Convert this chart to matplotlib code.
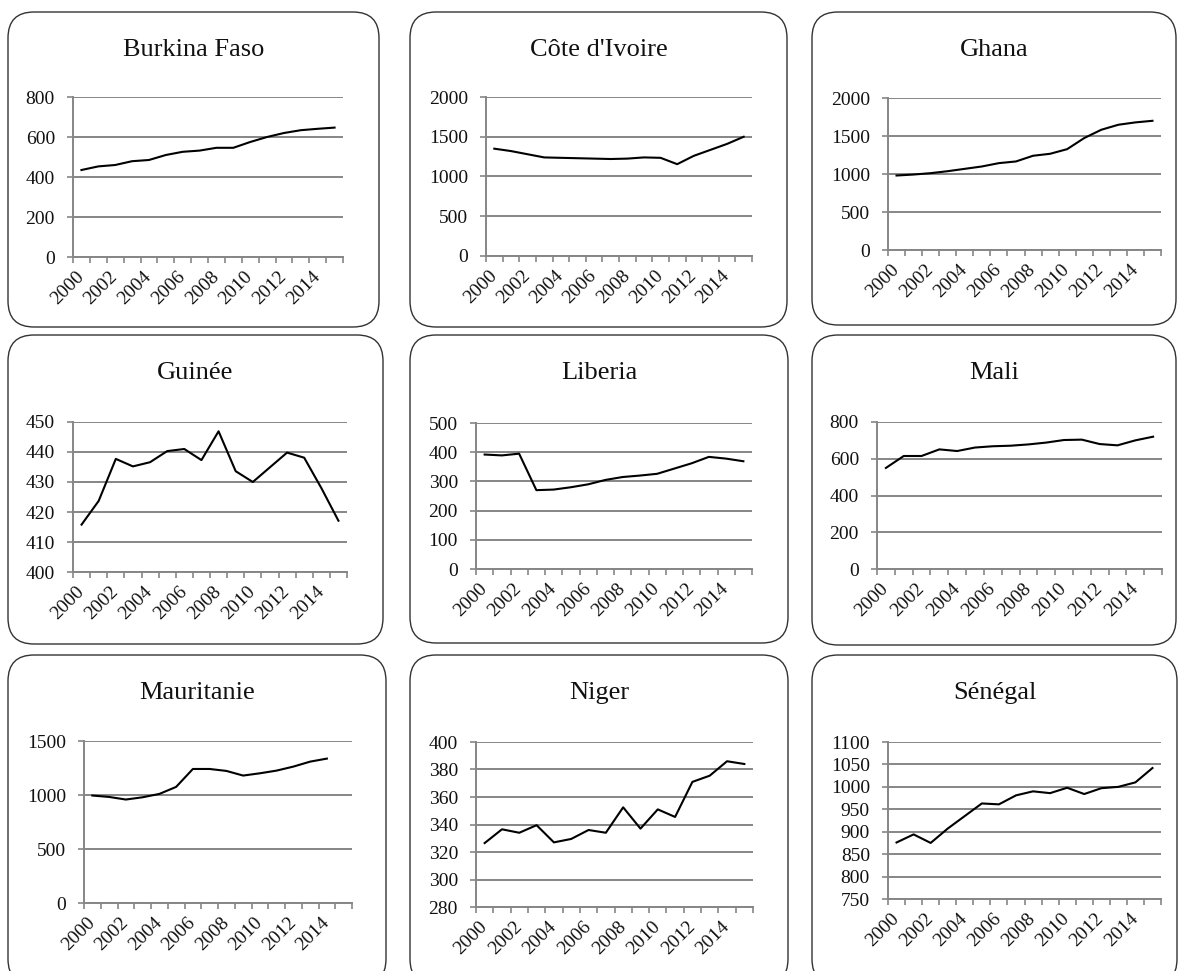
import numpy as np
import matplotlib
matplotlib.use("Agg")
import matplotlib.pyplot as plt
from matplotlib.patches import FancyBboxPatch

plt.rcParams['font.family'] = ['Liberation Serif', 'DejaVu Serif']

# Données
annees = [str(a) for a in range(2000, 2016)]
pays = ["Burkina Faso", "Côte d'Ivoire", "Ghana",
        "Guinée", "Liberia", "Mali",
        "Mauritanie", "Niger", "Sénégal"]

burkina = [435, 453, 460, 479, 485, 510, 526, 532, 546, 546, 575, 600, 620, 634, 641, 647]
cote_ivoire = [1350, 1320, 1280, 1240, 1235, 1230, 1225, 1220, 1225, 1240, 1235, 1155, 1260, 1335, 1410, 1500]
ghana = [980, 993, 1011, 1037, 1068, 1099, 1143, 1165, 1240, 1266, 1327, 1473, 1582, 1648, 1679, 1700]
guinee = [415.8, 423.7, 437.7, 435.2, 436.6, 440.3, 441.0, 437.3, 446.9, 433.6, 430.0, 434.9, 439.8, 438.1, 428.0, 417.1]
liberia = [392, 389, 395, 270, 272, 280, 290, 305, 315, 320, 326, 344, 362, 384, 378, 369]
mali = [550, 615, 615, 651, 642, 661, 668, 671, 678, 688, 702, 704, 680, 673, 700, 720]
mauritanie = [995, 982, 958, 979, 1010, 1075, 1241, 1241, 1223, 1180, 1201, 1226, 1263, 1309, 1337, np.nan]
niger = [326.5, 336.5, 334, 339.5, 327, 329.5, 336, 334, 352.5, 337, 351, 345.5, 371, 375.5, 386, 384]
senegal = [876, 894, 875, 907, 935, 963, 961, 981, 990, 986, 998, 984, 997, 1000, 1010, 1042]

series = [burkina, cote_ivoire, ghana, guinee, liberia, mali, mauritanie, niger, senegal]
ylims = [(0, 800, 200), (0, 2000, 500), (0, 2000, 500),
         (400, 450, 10), (0, 500, 100), (0, 800, 200),
         (0, 1500, 500), (280, 400, 20), (750, 1100, 50)]

# Mise en page en pixels (gauche, haut, droite, bas)
W, H = 1185, 971
panneaux = [(8, 12, 379, 327), (410, 12, 787, 327), (812, 12, 1176, 325),
            (8, 335, 383, 644), (410, 335, 788, 643), (812, 335, 1176, 645),
            (8, 655, 386, 985), (410, 655, 788, 985), (812, 655, 1177, 985)]
zones = [(73, 97, 343, 257), (486, 97, 752, 256), (888, 98, 1161, 250),
         (73, 422, 347, 572), (476, 423, 752, 569), (877, 422, 1162, 569),
         (84, 741, 352, 903), (476, 742, 753, 907), (888, 742, 1161, 899)]
titres_y = [50, 50, 50, 373, 373, 373, 693, 693, 693]

fig = plt.figure(figsize=(W / 100, H / 100), dpi=100)
gris = '#868686'

for i in range(9):
    l, t, r, b = panneaux[i]
    box = FancyBboxPatch((l / 100, (H - b) / 100), (r - l) / 100, (b - t) / 100,
                         boxstyle="round,pad=0,rounding_size=0.26",
                         transform=fig.dpi_scale_trans, facecolor='none',
                         edgecolor='#333333', linewidth=1.0, zorder=-1)
    fig.patches.append(box)
    fig.text((l + r) / 2 / W, 1 - titres_y[i] / H, pays[i], ha='center', va='center',
             fontsize=19, color='#111111')

    l, t, r, b = zones[i]
    ax = fig.add_axes([l / W, 1 - b / H, (r - l) / W, (b - t) / H])
    ax.set_facecolor('none')
    y = series[i]
    x = np.arange(len(y))
    ax.plot(x, y, color='black', linewidth=1.5)
    ax.set_xlim(-0.5, len(annees) - 0.5)
    y0, y1, pas = ylims[i]
    ax.set_ylim(y0, y1)
    ax.set_yticks(np.arange(y0, y1 + pas / 2, pas))
    ax.yaxis.grid(True, color=gris, linewidth=1.4)
    ax.set_axisbelow(True)
    ax.set_xticks(np.arange(-0.5, len(annees), 1))
    ax.set_xticklabels([])
    ax.set_xticks(np.arange(0, len(annees), 2), minor=True)
    ax.set_xticklabels(annees[::2], minor=True, rotation=45, ha='right', va='center',
                       rotation_mode='anchor', fontsize=14, color='#111111')
    ax.tick_params(axis='x', which='major', length=4, width=1.2, color=gris)
    ax.tick_params(axis='x', which='minor', length=0, pad=12)
    ax.tick_params(axis='y', length=4, width=1.2, color=gris, labelcolor='#111111',
                   labelsize=14, pad=9)
    for s in ['top', 'right']:
        ax.spines[s].set_visible(False)
    for s in ['left', 'bottom']:
        ax.spines[s].set_color(gris)
        ax.spines[s].set_linewidth(1.4)

plt.savefig('out.png', dpi=100)
